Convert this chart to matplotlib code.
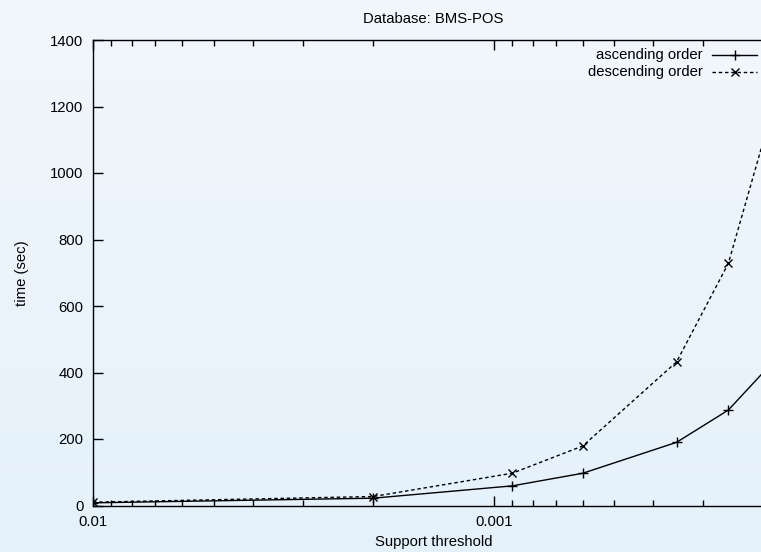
import numpy as np
import matplotlib
matplotlib.use('Agg')
import matplotlib.pyplot as plt
from matplotlib.ticker import FixedLocator, LogLocator, NullFormatter, FixedFormatter
from matplotlib.colors import LinearSegmentedColormap

plt.rcParams['font.family'] = ['Liberation Sans', 'DejaVu Sans']

# data
support = [0.01, 0.002, 0.0009, 0.0006, 0.00035, 0.00026, 0.0002]
asc_time = [8, 22, 59, 97, 190, 287, 435]
desc_time = [10, 27, 97, 179, 432, 728, 1208]

W, H = 761, 552
fig = plt.figure(figsize=(W / 100, H / 100), dpi=100)

# light blue gradient background
bg = fig.add_axes([0, 0, 1, 1], zorder=-10)
cmap = LinearSegmentedColormap.from_list('bg', ['#e4f1fb', '#f2f7fc'])
bg.imshow(np.linspace(0, 1, 256).reshape(-1, 1), aspect='auto', cmap=cmap,
          origin='lower', extent=[0, 1, 0, 1])
bg.axis('off')

left, right, top, bottom = 93, 774, 40, 505.5
ax = fig.add_axes([left / W, (H - bottom) / H, (right - left) / W, (bottom - top) / H])
ax.set_facecolor('none')

fs = 10.7
ax.plot(support, asc_time, color='black', lw=1.0, marker='+', ms=7, mew=1.0)
ax.plot(support, desc_time, color='black', lw=1.0, dashes=(2.5, 2), marker='x', ms=6, mew=1.0)

ax.set_xscale('log')
ax.set_xlim(0.01, 0.0002)
ax.set_ylim(0, 1400)

ax.xaxis.set_major_locator(FixedLocator([0.01, 0.001]))
ax.xaxis.set_major_formatter(FixedFormatter(['0.01', '0.001']))
ax.xaxis.set_minor_locator(LogLocator(base=10, subs=np.arange(2, 10)))
ax.xaxis.set_minor_formatter(NullFormatter())
ax.set_yticks(np.arange(0, 1401, 200))

ax.tick_params(which='both', direction='in', top=True, right=True, labelsize=fs, pad=7)
ax.tick_params(which='major', length=7, width=1)
ax.tick_params(which='minor', length=4, width=1)
for s in ax.spines.values():
    s.set_linewidth(1.0)

ax.set_title('Database: BMS-POS', fontsize=fs, pad=12)
ax.set_xlabel('Support threshold', fontsize=fs, labelpad=4)
ax.set_ylabel('time (sec)', fontsize=fs, labelpad=15)

# key, gnuplot style: text then sample
ax.text(0.8957, 0.968, 'ascending order', transform=ax.transAxes, ha='right', va='center', fontsize=fs)
ax.text(0.8957, 0.932, 'descending order', transform=ax.transAxes, ha='right', va='center', fontsize=fs)
ax.plot([0.909, 0.975], [0.968, 0.968], transform=ax.transAxes, color='black', lw=1.0, clip_on=False)
ax.plot([0.942], [0.968], transform=ax.transAxes, color='black', marker='+', ms=7, mew=1.0, clip_on=False)
ax.plot([0.909, 0.975], [0.932, 0.932], transform=ax.transAxes, color='black', lw=1.0,
        dashes=(2.5, 2), clip_on=False)
ax.plot([0.942], [0.932], transform=ax.transAxes, color='black', marker='x', ms=6, mew=1.0, clip_on=False)

fig.savefig('out.png', dpi=100)
